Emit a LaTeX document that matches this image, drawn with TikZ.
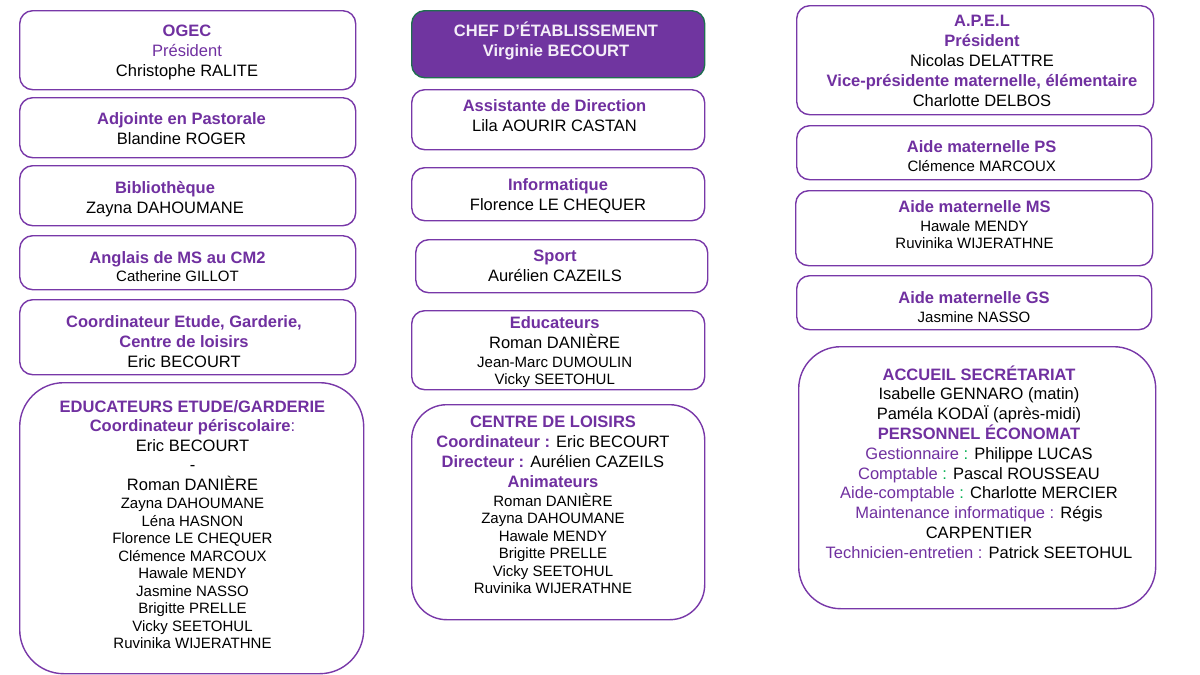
\documentclass[tikz,border=0pt]{standalone}
\usepackage{fontspec}
\setmainfont{Liberation Sans}
\usepackage{tikz}
\definecolor{txtpurple}{HTML}{7030A0}
\definecolor{boxpurple}{HTML}{7838A8}
\definecolor{cheffill}{HTML}{7035A0}
\definecolor{chefline}{HTML}{1F6E50}
\definecolor{chefwhite}{HTML}{F4EEF8}
\definecolor{colgreen}{HTML}{00B050}
\setlength{\parskip}{0pt}
\newcommand{\hd}[1]{\textbf{\textcolor{txtpurple}{#1}}}
\newcommand{\pl}[1]{\textcolor{txtpurple}{#1}}
\newcommand{\gcol}{\textcolor{colgreen}{:}}
\newcommand{\fbig}{\fontsize{16.5}{20}\selectfont}
\newcommand{\fsmf}{\fontsize{15}{18.7}\selectfont}
\newcommand{\fsm}{\fontsize{15}{17.5}\selectfont}
\tikzset{
  box/.style={draw=boxpurple, line width=1.4pt, rounded corners=13pt, fill=white,
    anchor=north west, inner sep=0pt},
  bigbox/.style={box, rounded corners=44pt},
  lines/.style={anchor=base, align=flush center, text width=350pt, inner sep=0pt, font=\fbig},
}
\begin{document}
\begin{tikzpicture}[x=1pt,y=-1pt]
  \useasboundingbox (0,0) rectangle (1200,675);
  %% left column
  \node[box, minimum width=336pt, minimum height=79pt] (ogec) at (19,10) {};
  \node[lines] (ogec-txt) at (187,36) {\hd{OGEC}\par \pl{Président}\par Christophe RALITE\par};
  \node[box, minimum width=336pt, minimum height=60pt] (pasto) at (19,97) {};
  \node[lines] (pasto-txt) at (181.5,124) {\hd{Adjointe en Pastorale}\par Blandine ROGER\par};
  \node[box, minimum width=336pt, minimum height=60pt] (biblio) at (19,165) {};
  \node[lines] (biblio-txt) at (165,193) {\hd{Bibliothèque}\par Zayna DAHOUMANE\par};
  \node[box, minimum width=336pt, minimum height=54pt] (anglais) at (19,235) {};
  \node[lines] (anglais-txt) at (177.5,263) {\hd{Anglais de MS au CM2}\par \fsmf Catherine GILLOT\par};
  \node[box, minimum width=336pt, minimum height=75pt] (coord) at (19,299) {};
  \node[lines] (coord-txt) at (184,327) {\hd{Coordinateur Etude, Garderie,}\par
    \hd{Centre de loisirs}\par Eric BECOURT\par};
  \node[bigbox, minimum width=344pt, minimum height=291pt] (educ) at (19,382) {};
  \node[lines, font=\fontsize{16.5}{19.5}\selectfont] (educ-txt) at (192.5,412) {%
    \hd{EDUCATEURS ETUDE/GARDERIE}\par \hd{Coordinateur périscolaire}\pl{:}\par
    Eric BECOURT\par -\par Roman DANIÈRE\par
    \fsmf Zayna DAHOUMANE\par \fsm Léna HASNON\par Florence LE CHEQUER\par
    Clémence MARCOUX\par Hawale MENDY\par Jasmine NASSO\par Brigitte PRELLE\par
    Vicky SEETOHUL\par Ruvinika WIJERATHNE\par};
  %% middle column
  \node[box, fill=cheffill, draw=chefline, minimum width=293pt, minimum height=67pt] (chef) at (411,10) {};
  \node[lines, text=chefwhite, font=\fbig\bfseries] (chef-txt) at (556,36.7) {CHEF D’ÉTABLISSEMENT\par
    Virginie BECOURT\par};
  \node[box, minimum width=293pt, minimum height=60pt] (assist) at (411,89) {};
  \node[lines] (assist-txt) at (554.5,111.7) {\hd{Assistante de Direction}\par Lila AOURIR CASTAN\par};
  \node[box, minimum width=293pt, minimum height=53pt] (info) at (411,167) {};
  \node[lines] (info-txt) at (558,190.7) {\hd{Informatique}\par Florence LE CHEQUER\par};
  \node[box, minimum width=292pt, minimum height=53pt] (sport) at (415,239) {};
  \node[lines] (sport-txt) at (555,261.7) {\hd{Sport}\par Aurélien CAZEILS\par};
  \node[box, minimum width=293pt, minimum height=79pt] (educm) at (411,310) {};
  \node[lines] (educm-txt) at (554.7,328.3) {\hd{Educateurs}\par Roman DANIÈRE\par
    \fsmf Jean-Marc DUMOULIN\par \fsm Vicky SEETOHUL\par};
  \node[box, rounded corners=35pt, minimum width=293pt, minimum height=215pt] (centre) at (411,404) {};
  \node[lines] (centre-txt) at (553,427.3) {\hd{CENTRE DE LOISIRS}\par
    \hd{Coordinateur :} Eric BECOURT\par \hd{Directeur :} Aurélien CAZEILS\par
    \hd{Animateurs}\par \fsmf Roman DANIÈRE\par \fsm Zayna DAHOUMANE\par
    Hawale MENDY\par Brigitte PRELLE\par Vicky SEETOHUL\par Ruvinika WIJERATHNE\par};
  %% right column
  \node[box, minimum width=357pt, minimum height=109pt] (apel) at (796,5) {};
  \node[lines] (apel-txt) at (982,26) {\hd{A.P.E.L}\par \hd{Président}\par Nicolas DELATTRE\par
    \hd{Vice-présidente maternelle, élémentaire}\par Charlotte DELBOS\par};
  \node[box, minimum width=355pt, minimum height=54pt] (aideps) at (796,125) {};
  \node[lines] (aideps-txt) at (981.7,152.7) {\hd{Aide maternelle PS}\par \fsmf Clémence MARCOUX\par};
  \node[box, minimum width=357pt, minimum height=75pt] (aidems) at (795,190) {};
  \node[lines] (aidems-txt) at (974.5,212.7) {\hd{Aide maternelle MS}\par \fsmf Hawale MENDY\par
    \fsm Ruvinika WIJERATHNE\par};
  \node[box, minimum width=355pt, minimum height=54pt] (aidegs) at (796,275) {};
  \node[lines] (aidegs-txt) at (974,303.3) {\hd{Aide maternelle GS}\par \fsmf Jasmine NASSO\par};
  \node[bigbox, rounded corners=42pt, minimum width=357pt, minimum height=262pt] (accueil) at (798,346) {};
  \node[lines, font=\fontsize{16.5}{19.8}\selectfont] (accueil-txt) at (979,380) {%
    \hd{ACCUEIL SECRÉTARIAT}\par Isabelle GENNARO (matin)\par Paméla KODAÏ (après-midi)\par
    \hd{PERSONNEL ÉCONOMAT}\par \pl{Gestionnaire} \gcol{} Philippe LUCAS\par
    \pl{Comptable} \gcol{} Pascal ROUSSEAU\par \pl{Aide-comptable} \gcol{} Charlotte MERCIER\par
    \pl{Maintenance informatique :} Régis\par CARPENTIER\par
    \pl{Technicien-entretien :} Patrick SEETOHUL\par};
\end{tikzpicture}
\end{document}
